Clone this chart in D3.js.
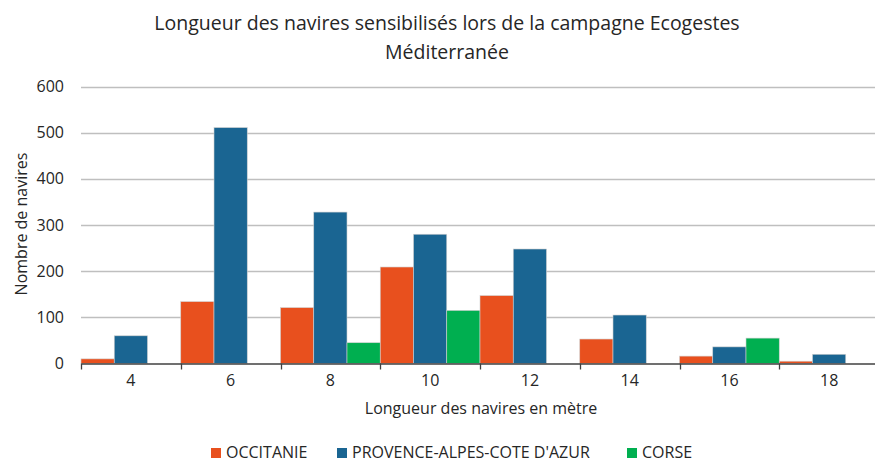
<!DOCTYPE html>
<html><head><meta charset="utf-8">
<script src="https://cdn.jsdelivr.net/npm/d3@7"></script>
<style>body{margin:0;background:#fff}svg{display:block}text{font-family:"Open Sans",sans-serif;fill:#262626}</style>
</head><body><svg id="c" width="875" height="465"></svg>
<script>
const categories = ["4","6","8","10","12","14","16","18"];
const seriesNames = ["OCCITANIE","PROVENCE-ALPES-COTE D'AZUR","CORSE"];
const occitanie = [10,134,121,209,147,53,16,5];
const paca = [60,511,328,280,248,105,36,20];
const corse = [0,0,45,115,0,0,55,0];
const yTicks = [0,100,200,300,400,500,600];
const colors = ["#E8501E","#1A6592","#00AF50"];
const values = [occitanie, paca, corse];

const svg = d3.select("#c");
const m = {left:81, right:879, top:86.5, bottom:363.5};
const x = d3.scaleBand().domain(categories).range([m.left, m.right]).padding(0);
const xs = d3.scaleBand().domain(d3.range(3)).range([0, x.bandwidth()]).padding(0);
const y = d3.scaleLinear().domain([0,600]).range([m.bottom, m.top]);

// grid
svg.append("g").selectAll("line").data(yTicks.filter(d=>d>0)).join("line")
  .attr("x1", m.left).attr("x2", m.right)
  .attr("y1", d=>Math.round(y(d))+0.5).attr("y2", d=>Math.round(y(d))+0.5)
  .attr("stroke","#BFBFBF").attr("stroke-width",1.3);

// y labels
svg.append("g").selectAll("text").data(yTicks).join("text")
  .attr("x", 64).attr("y", d=>y(d)).attr("dy","0.35em").attr("text-anchor","end")
  .style("font-size","16px").text(d=>d);

// bars
const g = svg.append("g");
categories.forEach((c,i)=>{
  values.forEach((vals,s)=>{
    const v = vals[i];
    if (v<=0) return;
    g.append("rect").attr("x", x(c)+xs(s)).attr("width", xs.bandwidth())
      .attr("y", y(v)).attr("height", y(0)-y(v))
      .attr("fill", colors[s]).attr("stroke","#D0D0D0").attr("stroke-width",0.6);
  });
});

// x axis
const xAxis = d3.axisBottom(x).tickSize(0).tickPadding(11);
const ax = svg.append("g").attr("transform",`translate(0,${m.bottom})`).call(xAxis);
ax.select(".domain").attr("stroke","#404040").attr("stroke-width",1.3);
ax.selectAll("text").style("font-size","16px").style("font-family","Open Sans").attr("fill","#262626");
// boundary ticks
svg.append("g").selectAll("line").data(categories).join("line")
  .attr("x1", d=>Math.round(x(d))+0.5).attr("x2", d=>Math.round(x(d))+0.5)
  .attr("y1", m.bottom).attr("y2", m.bottom+6).attr("stroke","#404040").attr("stroke-width",1.3);

// titles
svg.append("text").attr("x",447).attr("y",23).attr("dy","0.35em").attr("text-anchor","middle").style("font-size","19.5px")
  .text("Longueur des navires sensibilisés lors de la campagne Ecogestes");
svg.append("text").attr("x",447).attr("y",52).attr("dy","0.35em").attr("text-anchor","middle").style("font-size","19.5px")
  .text("Méditerranée");
svg.append("text").attr("x",481).attr("y",408).attr("dy","0.35em").attr("text-anchor","middle").style("font-size","16px")
  .text("Longueur des navires en mètre");
svg.append("text").attr("transform","translate(21,224) rotate(-90)").attr("dy","0.35em").attr("text-anchor","middle").style("font-size","16px")
  .text("Nombre de navires");

// legend
const legX = [211, 337, 627];
const lg = svg.append("g");
seriesNames.forEach((n,i)=>{
  lg.append("rect").attr("x",legX[i]).attr("y",448).attr("width",10).attr("height",10).attr("fill",colors[i]);
  lg.append("text").attr("x",legX[i]+15).attr("y",452).attr("dy","0.35em").style("font-size","16px").text(n);
});
</script></body></html>
